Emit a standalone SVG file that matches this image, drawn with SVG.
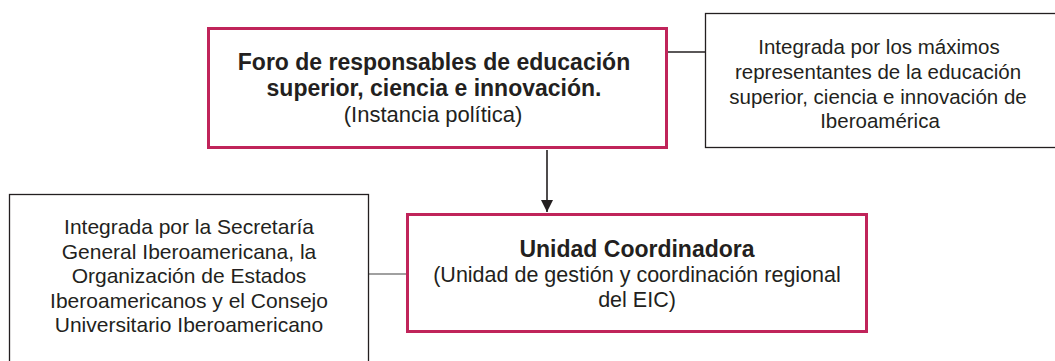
<svg xmlns="http://www.w3.org/2000/svg" width="1055" height="361" viewBox="0 0 1055 361">
<style>
.pink{fill:#fff;stroke:#c0245a;stroke-width:3}
.gray{fill:#fff;stroke:#231f20;stroke-width:1.3}
.t{font-family:"Liberation Sans",Arial,sans-serif;fill:#231f20;text-anchor:middle}
.b{font-weight:bold}
.c{stroke:#231f20;stroke-width:1.3;fill:none}
</style>
<defs>
<marker id="ah" viewBox="0 0 10 10" refX="10" refY="5" markerWidth="12" markerHeight="12" markerUnits="userSpaceOnUse" orient="auto">
<path d="M0,0 L10,5 L0,10 z" fill="#231f20"/>
</marker>
</defs>
<g id="connectors">
<line class="c" x1="667" y1="52" x2="705" y2="52"/>
<line class="c" x1="369" y1="274" x2="407" y2="274" style="stroke:#808080"/>
<line class="c" x1="547" y1="150" x2="547" y2="212" marker-end="url(#ah)" style="stroke-width:1.6"/>
</g>
<g id="foro">
<rect class="pink" x="208.5" y="28.5" width="458" height="119"/>
<text class="t b" x="434" y="70" font-size="23">Foro de responsables de educación</text>
<text class="t b" x="434" y="96" font-size="23">superior, ciencia e innovación.</text>
<text class="t" x="433" y="121.5" font-size="22">(Instancia política)</text>
</g>
<g id="integrada-maximos">
<rect class="gray" x="705.5" y="13.5" width="360" height="134"/>
<text class="t" x="879" y="54" font-size="20.5">Integrada por los máximos</text>
<text class="t" x="878" y="79" font-size="20.5">representantes de la educación</text>
<text class="t" x="878" y="104" font-size="20.5">superior, ciencia e innovación de</text>
<text class="t" x="880" y="128" font-size="20.5">Iberoamérica</text>
</g>
<g id="integrada-segib">
<rect class="gray" x="9.5" y="194.5" width="359" height="180"/>
<text class="t" x="189" y="234" font-size="21">Integrada por la Secretaría</text>
<text class="t" x="189" y="259" font-size="21">General Iberoamericana, la</text>
<text class="t" x="189" y="283" font-size="21">Organización de Estados</text>
<text class="t" x="189" y="308" font-size="21">Iberoamericanos y el Consejo</text>
<text class="t" x="189" y="332" font-size="21">Universitario Iberoamericano</text>
</g>
<g id="unidad">
<rect class="pink" x="407.5" y="214.5" width="459" height="117"/>
<text class="t b" x="637" y="257" font-size="23">Unidad Coordinadora</text>
<text class="t" x="637" y="282" font-size="21.5">(Unidad de gestión y coordinación regional</text>
<text class="t" x="637" y="307" font-size="21.5">del EIC)</text>
</g>
</svg>
